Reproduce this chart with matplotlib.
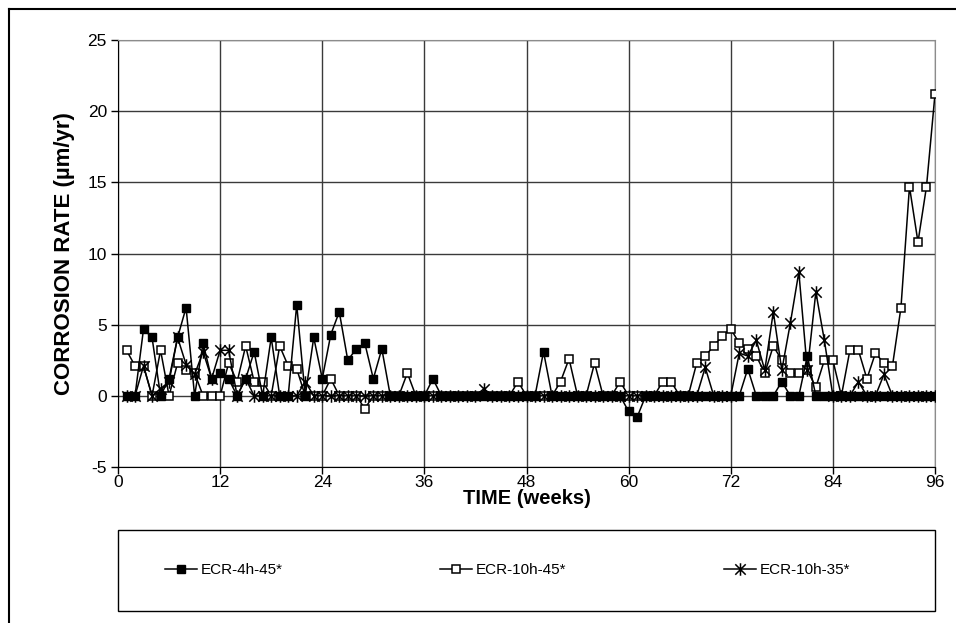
import matplotlib.pyplot as plt
from matplotlib.lines import Line2D
from matplotlib.patches import Rectangle
from matplotlib.path import Path

#%% DATA
weeks = list(range(1, 97))

ecr_4h_45 = [0, 0, 4.7, 4.1, 0, 1.2, 4.1, 6.2, 0, 3.7,
             1.2, 1.6, 1.2, 0, 1.2, 3.1, 0, 4.1, 0, 0,
             6.4, 0, 4.1, 1.2, 4.3, 5.9, 2.5, 3.3, 3.7, 1.2,
             3.3, 0, 0, 0, 0, 0, 1.2, 0, 0, 0,
             0, 0, 0, 0, 0, 0, 0, 0, 0, 3.1,
             0, 0, 0, 0, 0, 0, 0, 0, 0, -1.1,
             -1.5, 0, 0, 0, 0, 0, 0, 0, 0, 0,
             0, 0, 0, 1.9, 0, 0, 0, 1.0, 0, 0,
             2.8, 0, 0, 0, 0, 0, 0, 0, 0, 0,
             0, 0, 0, 0, 0, 0]

ecr_10h_45 = [3.2, 2.1, 2.1, 0, 3.2, 0, 2.3, 1.8, 1.6, 0,
              0, 0, 2.3, 1.0, 3.5, 1.0, 1.0, 0, 3.5, 2.1,
              1.9, 0, 0, 0, 1.2, 0, 0, 0, -0.9, 0,
              0, 0, 0, 1.6, 0, 0, 0, 0, 0, 0,
              0, 0, 0, 0, 0, 0, 1.0, 0, 0, 0,
              0, 1.0, 2.6, 0, 0, 2.3, 0, 0, 1.0, 0,
              0, 0, 0, 1.0, 1.0, 0, 0, 2.3, 2.8, 3.5,
              4.2, 4.7, 3.7, 3.3, 2.8, 1.6, 3.5, 2.5, 1.6, 1.6,
              1.8, 0.6, 2.5, 2.5, 0, 3.2, 3.2, 1.2, 3.0, 2.3,
              2.1, 6.2, 14.7, 10.8, 14.7, 21.2]

ecr_10h_35 = [0, 0, 2.1, 0, 0.5, 1.0, 4.1, 2.2, 1.5, 3.1,
              1.2, 3.2, 3.2, 0, 1.2, 0, 0, 0, 0, 0,
              0, 1.0, 0, 0, 0, 0, 0, 0, 0, 0,
              0, 0, 0, 0, 0, 0, 0, 0, 0, 0,
              0, 0, 0.5, 0, 0, 0, 0, 0, 0, 0,
              0, 0, 0, 0, 0, 0, 0, 0, 0, 0,
              0, 0, 0, 0, 0, 0, 0, 0, 2.0, 0,
              0, 0, 3.0, 2.8, 3.9, 1.8, 5.9, 1.8, 5.1, 8.7,
              1.8, 7.3, 3.9, 0, 0, 0, 1.0, 0, 0, 1.5,
              0, 0, 0, 0, 0, 0]

labels = ["ECR-4h-45*", "ECR-10h-45*", "ECR-10h-35*"]
x_ticks = [0, 12, 24, 36, 48, 60, 72, 84, 96]
y_ticks = [-5, 0, 5, 10, 15, 20, 25]

#%% PLOT
plt.rcParams['font.family'] = ['Liberation Sans', 'DejaVu Sans']
plt.rcParams['axes.unicode_minus'] = False

# excel style asterisk: an X with a vertical bar
star = Path([(-1, -1), (1, 1), (-1, 1), (1, -1), (0, -1.2), (0, 1.2)],
            [Path.MOVETO, Path.LINETO, Path.MOVETO, Path.LINETO, Path.MOVETO, Path.LINETO])

W, H = 956, 623
fig = plt.figure(figsize=(W / 100, H / 100), dpi=100)
ax = fig.add_axes([118 / W, 1 - 467 / H, (935 - 118) / W, (467 - 40) / H])

ax.plot(weeks, ecr_10h_45, color='black', lw=1.1, marker='s', ms=6,
        mfc='white', mec='black', mew=1.1, label=labels[1], zorder=3)
ax.plot(weeks, ecr_10h_35, color='black', lw=1.1, marker=star, ms=9,
        mec='black', mew=1.1, label=labels[2], zorder=4)
ax.plot(weeks, ecr_4h_45, color='black', lw=1.1, marker='s', ms=6,
        mfc='black', mec='black', label=labels[0], zorder=5)

ax.set_xlim(0, 96)
ax.set_ylim(-5, 25)
ax.set_xticks(x_ticks)
ax.set_yticks(y_ticks)
ax.grid(True, color='#3a3a3a', lw=1.0)
ax.set_axisbelow(True)
for s in ['top', 'right']:
    ax.spines[s].set_color('#8c8c8c')
for s in ['left', 'bottom']:
    ax.spines[s].set_color('black')
ax.tick_params(direction='out', length=5, width=1, labelsize=12.5, pad=3)
ax.tick_params(axis='x', pad=1)

ax.set_xlabel("TIME (weeks)", fontsize=14.5, fontweight='bold', labelpad=-1)
ax.set_ylabel("CORROSION RATE (µm/yr)", fontsize=16, fontweight='bold', labelpad=9)

# legend box
fig.add_artist(Rectangle((118 / W, 1 - 611 / H), (935 - 118) / W, (611 - 530) / H,
                         transform=fig.transFigure, fill=False, ec='black', lw=1.0))
handles, labs = ax.get_legend_handles_labels()
order = [2, 0, 1]
fig.legend([handles[i] for i in order], [labs[i] for i in order],
           loc='center left', bbox_to_anchor=(151 / W, 1 - 570 / H), ncol=3,
           frameon=False, fontsize=11, handlelength=2.1, handletextpad=0.25,
           columnspacing=10.3)

# outer frame
fig.add_artist(Line2D([9 / W, 1], [1 - 9 / H, 1 - 9 / H], transform=fig.transFigure,
                      color='black', lw=1.5))
fig.add_artist(Line2D([9 / W, 9 / W], [0, 1 - 9 / H], transform=fig.transFigure,
                      color='black', lw=1.5))

fig.savefig("out.png", dpi=100)
